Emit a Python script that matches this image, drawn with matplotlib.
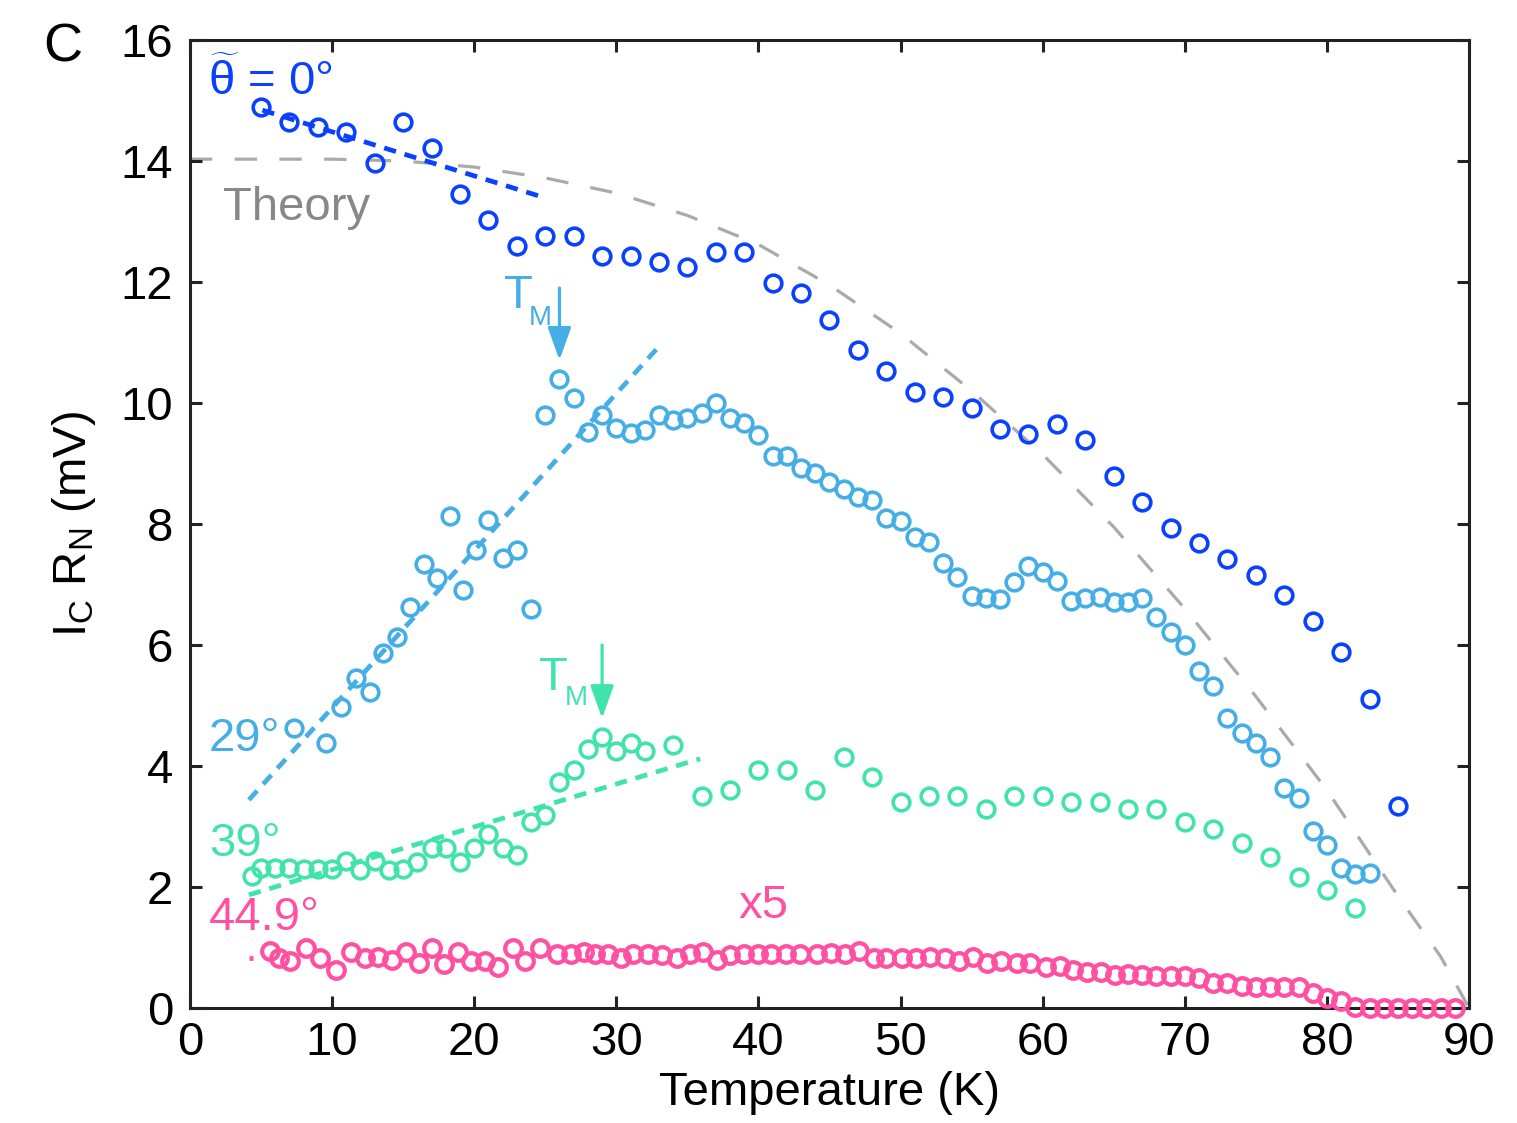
import matplotlib
matplotlib.use("Agg")
import matplotlib.pyplot as plt

plt.rcParams['font.family'] = ['Liberation Sans', 'DejaVu Sans']
plt.rcParams['mathtext.fontset'] = 'custom'
plt.rcParams['mathtext.rm'] = 'Liberation Sans'
plt.rcParams['mathtext.it'] = 'Liberation Sans'
plt.rcParams['mathtext.bf'] = 'Liberation Sans:bold'

# ---- measured I_C R_N (mV) versus temperature (K) ----
# twist angle 0 deg
t_0 = [5, 7, 9, 11, 13, 15, 17, 19, 21, 23, 25, 27, 29, 31, 33, 35, 37, 39, 41, 43,
       45, 47, 49, 51, 53, 55, 57, 59, 61, 63, 65, 67, 69, 71, 73, 75, 77, 79, 81, 83, 85]
v_0 = [14.89, 14.64, 14.56, 14.48, 13.97, 14.64, 14.21, 13.45, 13.02, 12.60, 12.76,
       12.76, 12.43, 12.43, 12.33, 12.25, 12.50, 12.50, 11.98, 11.82, 11.37, 10.88,
       10.53, 10.18, 10.10, 9.92, 9.57, 9.49, 9.65, 9.39, 8.79, 8.36, 7.93, 7.69,
       7.42, 7.16, 6.83, 6.40, 5.88, 5.11, 3.34]

# twist angle 29 deg
t_29 = [7.3, 9.6, 10.6, 11.7, 12.65, 13.6, 14.6, 15.5, 16.5, 17.4, 18.3, 19.2, 20.1,
        21.0, 22.0, 23.0, 24.0,
        25, 26, 27, 28, 29, 30, 31, 32, 33, 34, 35, 36, 37, 38, 39, 40, 41, 42, 43, 44,
        45, 46, 47, 48, 49, 50, 51, 52, 53, 54, 55, 56, 57, 58, 59, 60, 61, 62, 63, 64,
        65, 66, 67, 68, 69, 70, 71, 72, 73, 74, 75, 76, 77, 78, 79, 80, 81, 82, 83]
v_29 = [4.63, 4.38, 4.98, 5.45, 5.22, 5.87, 6.13, 6.63, 7.34, 7.11, 8.13, 6.91, 7.57,
        8.07, 7.44, 7.57, 6.60,
        9.80, 10.40, 10.08, 9.52, 9.80, 9.59, 9.50, 9.55, 9.80, 9.72, 9.75, 9.83, 10.00,
        9.75, 9.67, 9.47, 9.12, 9.12, 8.93, 8.84, 8.69, 8.58, 8.45, 8.40, 8.10, 8.05,
        7.79, 7.70, 7.36, 7.12, 6.81, 6.78, 6.76, 7.04, 7.31, 7.21, 7.06, 6.73, 6.78,
        6.79, 6.71, 6.71, 6.78, 6.46, 6.21, 6.00, 5.57, 5.32, 4.79, 4.55, 4.38, 4.15,
        3.64, 3.47, 2.93, 2.69, 2.31, 2.21, 2.23]

# twist angle 39 deg
t_39 = [4.4, 5, 6, 7, 8, 9, 10, 11, 12, 13, 14, 15, 16, 17, 18, 19, 20, 21, 22, 23,
        24, 25, 26, 27, 28, 29, 30, 31, 32, 34, 36, 38, 40, 42, 44, 46, 48, 50, 52, 54,
        56, 58, 60, 62, 64, 66, 68, 70, 72, 74, 76, 78, 80, 82]
v_39 = [2.18, 2.31, 2.31, 2.31, 2.30, 2.30, 2.30, 2.43, 2.28, 2.43, 2.28, 2.30, 2.42,
        2.64, 2.64, 2.42, 2.64, 2.88, 2.64, 2.53, 3.07, 3.19, 3.73, 3.94, 4.28, 4.48,
        4.25, 4.38, 4.25, 4.35, 3.50, 3.60, 3.93, 3.93, 3.60, 4.15, 3.82, 3.40, 3.50,
        3.50, 3.29, 3.50, 3.50, 3.40, 3.40, 3.29, 3.29, 3.07, 2.96, 2.73, 2.50, 2.17,
        1.95, 1.65]

# twist angle 44.9 deg (values multiplied by 5)
t_449 = [5.6, 6.3, 7.05, 8.15, 9.15, 10.25, 11.3, 12.3, 13.25, 14.25, 15.2, 16.1, 17.05,
         17.9, 18.85, 19.8, 20.75, 21.65, 22.7, 23.6, 24.6, 25.85, 26.8, 27.7, 28.5,
         29.4, 30.3, 31.2, 32.2, 33.2, 34.3, 35.2, 36.1, 37.1, 38.0, 39.0, 40.0, 40.9,
         41.95, 42.9, 44.1, 45.1, 46.1, 47.1, 48.1, 49.0, 50.1, 51.1, 52.1, 53.1, 54.1,
         55.1, 56.1, 57.1, 58.2, 59.1, 60.2, 61.2, 62.1, 63.1, 64.1, 65.1, 66.0, 67.0,
         68.0, 69.0, 70.0, 71.0, 72.0, 73.0, 74.0, 75.0, 76.0, 77.0, 78.0, 79.0, 80.0,
         81.0, 82.0, 83.0, 84.0, 85.0, 86.0, 87.0, 88.0, 89.0]
v_449 = [0.94, 0.83, 0.78, 0.99, 0.82, 0.63, 0.93, 0.83, 0.85, 0.80, 0.93, 0.74, 0.99,
         0.72, 0.92, 0.78, 0.78, 0.68, 0.99, 0.77, 1.00, 0.90, 0.89, 0.93, 0.90, 0.89,
         0.83, 0.89, 0.89, 0.88, 0.83, 0.90, 0.93, 0.79, 0.88, 0.90, 0.90, 0.90, 0.90,
         0.90, 0.89, 0.91, 0.90, 0.94, 0.83, 0.83, 0.83, 0.83, 0.85, 0.82, 0.77, 0.85,
         0.74, 0.77, 0.74, 0.74, 0.67, 0.70, 0.63, 0.60, 0.60, 0.55, 0.57, 0.55, 0.53,
         0.53, 0.53, 0.49, 0.42, 0.41, 0.37, 0.34, 0.34, 0.34, 0.35, 0.24, 0.16, 0.12,
         0.02, 0.0, 0.0, 0.0, 0.0, 0.0, 0.0, 0.0]

# theoretical curve
t_theory = [0, 10, 15, 20, 25, 30, 35, 40, 45, 50, 55, 60, 65, 70, 75, 80, 85, 88, 90]
v_theory = [14.03, 14.03, 14.0, 13.9, 13.72, 13.47, 13.1, 12.62, 11.95, 11.15, 10.2,
            9.15, 7.95, 6.6, 5.15, 3.6, 1.85, 0.85, 0.0]

# low-temperature linear trends (end points)
fit_t_0 = [5.1, 25.0]
fit_v_0 = [14.84, 13.39]
fit_t_29 = [4.15, 33.1]
fit_v_29 = [3.44, 10.96]
fit_t_39 = [4.15, 35.9]
fit_v_39 = [1.87, 4.12]
fit_t_449 = [4.15, 4.45]
fit_v_449 = [0.83, 0.83]

# characteristic temperatures T_M
tm_29 = 26.0
tm_39 = 29.0

x_ticks = [0, 10, 20, 30, 40, 50, 60, 70, 80, 90]
y_ticks = [0, 2, 4, 6, 8, 10, 12, 14, 16]

c_0 = '#0a41ff'
c_29 = '#45aee6'
c_39 = '#40e3aa'
c_449 = '#ff50a2'
c_theory = '#aaaaaa'

fig = plt.figure(figsize=(15.17, 11.23), dpi=100)
ax = fig.add_axes([0.1252, 0.1024, 0.8432, 0.862])

ax.plot(t_theory, v_theory, color=c_theory, lw=2.3, linestyle=(0, (7.0, 7.0)), zorder=1)

fit_style = dict(lw=3.4, linestyle=(0, (2.6, 1.9)), zorder=2, dash_capstyle='butt')
ax.plot(fit_t_0, fit_v_0, color=c_0, **fit_style)
ax.plot(fit_t_29, fit_v_29, color=c_29, **fit_style)
ax.plot(fit_t_39, fit_v_39, color=c_39, **fit_style)
ax.plot(fit_t_449, fit_v_449, color=c_449, **fit_style)

mk = dict(linestyle='none', marker='o', ms=12.0, mfc='none', mew=2.6, clip_on=False, zorder=3)
ax.plot(t_0, v_0, mec=c_0, **mk)
ax.plot(t_29, v_29, mec=c_29, **mk)
ax.plot(t_39, v_39, mec=c_39, **mk)
ax.plot(t_449, v_449, mec=c_449, **{**mk, 'mew': 3.0})

fs = 34
sub_fs = 20
ax.text(1.27, 15.09, r'$\widetilde{\theta}$ = 0°', color=c_0, fontsize=fs,
        ha='left', va='baseline')
ax.text(2.32, 13.02, 'Theory', color='#888888', fontsize=fs, ha='left', va='baseline')
ax.text(1.34, 4.25, '29°', color=c_29, fontsize=fs, ha='left', va='baseline')
ax.text(1.34, 2.51, '39°', color=c_39, fontsize=fs, ha='left', va='baseline')
ax.text(1.34, 1.29, '44.9°', color=c_449, fontsize=fs, ha='left', va='baseline')
ax.text(38.6, 1.49, 'x5', color=c_449, fontsize=fs, ha='left', va='baseline')

# T_M labels: main letter plus lowered subscript
ax.text(22.07, 11.57, 'T', color=c_29, fontsize=fs, ha='left', va='baseline')
ax.text(23.85, 11.29, 'M', color=c_29, fontsize=sub_fs, ha='left', va='baseline')
ax.text(24.53, 5.26, 'T', color=c_39, fontsize=fs, ha='left', va='baseline')
ax.text(26.35, 5.01, 'M', color=c_39, fontsize=sub_fs, ha='left', va='baseline')

arrow = dict(arrowstyle='-|>,head_length=1.0,head_width=0.36', lw=2.3,
             shrinkA=0, shrinkB=0, mutation_scale=20)
ax.annotate('', xy=(tm_29, 10.71), xytext=(tm_29, 11.9),
            arrowprops={**arrow, 'color': c_29})
ax.annotate('', xy=(tm_39, 4.79), xytext=(tm_39, 6.0),
            arrowprops={**arrow, 'color': c_39})

ax.set_xlim(0, 90)
ax.set_ylim(0, 16)
ax.set_xticks(x_ticks)
ax.set_yticks(y_ticks)
ax.tick_params(direction='in', length=8.6, width=2.2, top=True, right=True,
               labelsize=fs, colors='#222222', labelcolor='black')
ax.tick_params(axis='x', pad=9)
ax.tick_params(axis='y', pad=12)
for s in ax.spines.values():
    s.set_linewidth(2.2)
    s.set_color('#222222')

ax.set_xlabel('Temperature (K)', fontsize=fs, labelpad=5)
ax.set_ylabel(r'I$_\mathregular{C}$ R$_\mathregular{N}$ (mV)', fontsize=fs, labelpad=16)

fig.text(0.0283, 0.9448, 'C', fontsize=39, ha='left', va='baseline')

fig.savefig('out.png', dpi=100)
